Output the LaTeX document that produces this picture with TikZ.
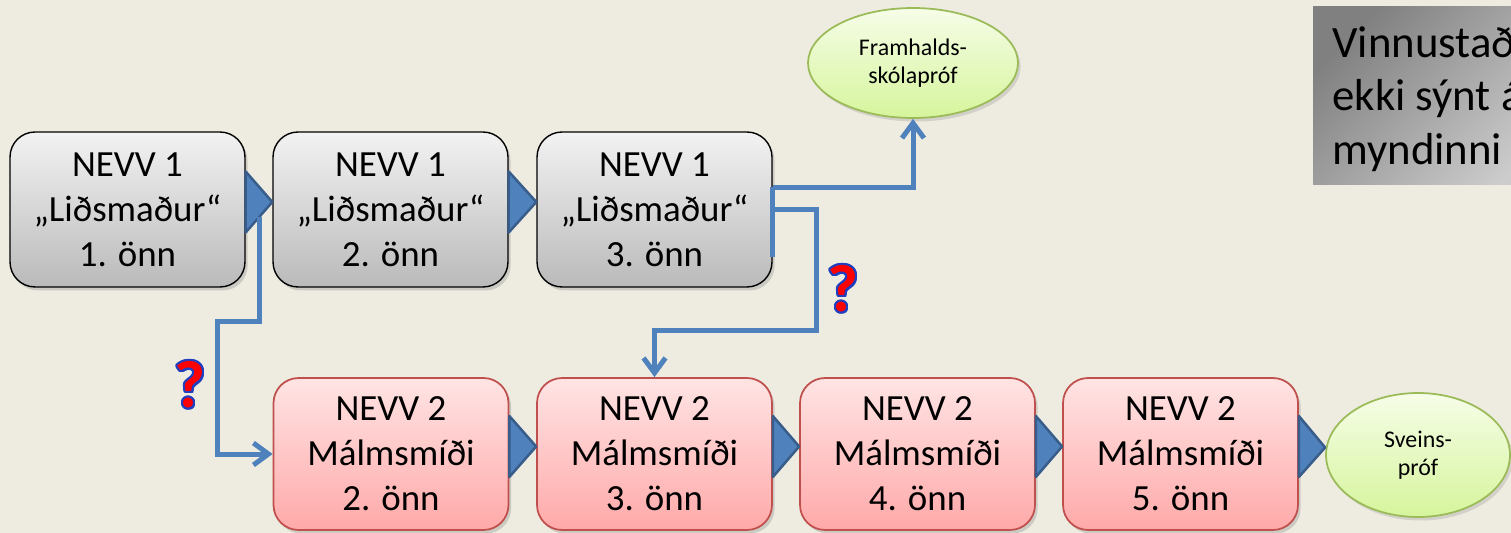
\documentclass[tikz,border=0pt]{standalone}
\usepackage{fontspec}
\setmainfont{Carlito}
\usepackage{contour}
\contourlength{1.2pt}
\usetikzlibrary{shapes.geometric,arrows.meta,calc,shadows}
\definecolor{paper}{HTML}{EEECE1}
\definecolor{linkblue}{HTML}{4F81BD}
\definecolor{chevedge}{HTML}{385D8A}
\definecolor{pinkedge}{HTML}{C0504D}
\definecolor{pinktop}{HTML}{FFE4E4}
\definecolor{pinkbot}{HTML}{FFA9A9}
\definecolor{greenedge}{HTML}{9BBB59}
\definecolor{greentop}{HTML}{F6FDE8}
\definecolor{greenbot}{HTML}{D6F59C}
\definecolor{qmblue}{HTML}{1F3FC0}
\newcommand{\chev}[2]{\filldraw[chev] ($(#1.east)+(0,-38)$) -- ($(#2.west)+(0,-7.5)$) -- ($(#1.east)+(0,23)$) -- cycle;}
\newcommand{\qmark}{\contour{qmblue}{\textcolor{red}{?}}}

\begin{document}
\begin{tikzpicture}[x=0.02cm,y=-0.02cm,
  box/.style={rectangle,rounded corners=0.5cm,minimum width=4.7cm,inner sep=0pt,align=center,
    font=\fontsize{21}{25.6}\selectfont,drop shadow={shadow xshift=1.5pt,shadow yshift=-2pt,opacity=0.3}},
  nevva/.style={box,minimum height=3.1cm,draw=black,line width=0.8pt,top color=black!5,bottom color=black!27},
  nevvb/.style={box,minimum height=3.04cm,draw=pinkedge,line width=1pt,top color=pinktop,bottom color=pinkbot},
  goal/.style={ellipse,draw=greenedge,line width=1pt,top color=greentop,bottom color=greenbot,inner sep=0pt,
    align=center,font=\fontsize{13.6}{16}\selectfont,drop shadow={shadow xshift=1.5pt,shadow yshift=-2pt,opacity=0.25}},
  chev/.style={fill=linkblue,draw=chevedge,line width=0.05cm,line join=round},
  link/.style={draw=linkblue,line width=0.1cm,-{Straight Barb[length=0.3cm,width=0.44cm]}},
  qm/.style={font=\fontsize{38}{38}\bfseries\selectfont,inner sep=0pt}]
\fill[paper] (0,0) rectangle (1511,533);
\useasboundingbox (0,0) rectangle (1511,533);

% note box, cut by the right edge
\shade[top color=black!50,bottom color=black!20,shading angle=45] (1313,7) rectangle (1560,185);
\node[anchor=north west,align=left,inner sep=0pt,font=\fontsize{25.5}{30.6}\selectfont] (note) at (1332,26)
  {Vinnustað\\ekki sýnt á\\myndinni};

% first row
\node[nevva] (n1a) at (127.5,209.5) {NEVV 1\\„Liðsmaður“\\1. önn};
\node[nevva] (n1b) at (390.5,209.5) {NEVV 1\\„Liðsmaður“\\2. önn};
\node[nevva] (n1c) at (654.5,209.5) {NEVV 1\\„Liðsmaður“\\3. önn};

% second row
\node[nevvb] (n2a) at (391,454) {NEVV 2\\Málmsmíði\\2. önn};
\node[nevvb] (n2b) at (654.5,454) {NEVV 2\\Málmsmíði\\3. önn};
\node[nevvb] (n2c) at (917.5,454) {NEVV 2\\Málmsmíði\\4. önn};
\node[nevvb] (n2d) at (1180.5,454) {NEVV 2\\Málmsmíði\\5. önn};

% exams
\node[goal,minimum width=4.2cm,minimum height=2.2cm] (fram) at (913,63) {Framhalds-\\skólapróf};
\node[goal,minimum width=3.68cm,minimum height=2.48cm] (sveins) at (1418,455) {Sveins-\\próf};

\chev{n1a}{n1b}
\chev{n1b}{n1c}
\chev{n2a}{n2b}
\chev{n2b}{n2c}
\chev{n2c}{n2d}
\chev{n2d}{sveins}

% side routes
\coordinate (s1) at (259,217);
\coordinate (s2) at ($(n1c.east)+(0,-22)$);
\coordinate (s3) at ($(n1c.east)+(0,48)$);
\draw[link] (s1) |- (217,322) |- (n2a.west);
\draw[link] (s2) -| (fram.south);
\draw[link] (n1c.east) -| (816,331) -| (n2b.north);
\draw[linkblue,line width=0.1cm] (s2) -- (s3);

\node[qm] (qa) at (190,386) {\qmark};
\node[qm] (qb) at (843,290) {\qmark};
\end{tikzpicture}
\end{document}
